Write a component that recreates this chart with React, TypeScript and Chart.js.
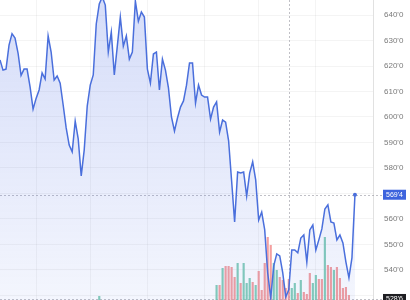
import React, { useEffect, useRef } from "react";
import { Chart, registerables } from "chart.js";

Chart.register(...registerables);

// Close prices (cents/bu), one per session
const prices: number[] = [
  622.4, 618.4, 618.8, 628.2, 632.7, 631.0, 625.1, 616.3, 618.8, 618.8,
  611.8, 603.1, 607.3, 610.6, 617.3, 614.9, 631.8, 625.5, 614.5, 616.1,
  613.3, 604.7, 595.7, 589.0, 586.3, 598.4, 591.4, 576.9, 587.1, 604.3,
  612.5, 616.5, 636.5, 644.3, 647.1, 643.9, 625.5, 633.3, 616.5, 627.8,
  639.2, 627.8, 631.8, 622.7, 625.5, 645.5, 637.6, 641.2, 639.2, 618.8,
  613.3, 624.7, 625.5, 610.6, 622.7, 618.4, 611.4, 600.0, 594.5, 599.6,
  603.9, 606.3, 612.5, 621.2, 621.2, 605.5, 612.5, 608.6, 607.8, 607.8,
  599.2, 603.9, 605.9, 594.1, 598.8, 598.0, 590.6, 574.9, 558.8, 578.4,
  578.0, 578.4, 569.0, 578.0, 582.4, 575.3, 559.6, 562.7, 555.7, 538.8,
  529.0, 541.6, 546.3, 545.5, 538.8, 529.4, 532.2, 547.8, 547.8, 546.7,
  552.5, 553.7, 543.1, 555.7, 557.6, 547.8, 551.8, 556.1, 563.9, 565.5,
  558.8, 558.4, 551.8, 553.7, 550.6, 543.1, 536.9, 544.7, 569.5,
];

// Volume bars: first session with a visible bar, and the later run
const earlyVolumeIndex = 33;
const earlyVolume = 4;
const earlyVolumeDir = "G";
const volumeStart = 72;
const volumeValues: number[] = [
  15, 15, 32, 34, 34, 33, 23, 37, 17, 37,
  17, 22, 18, 15, 29, 10, 37, 63, 55, 37,
  30, 23, 20, 12, 21, 12, 17, 7, 20, 8,
  6, 27, 17, 25, 21, 21, 63, 35, 33, 30,
  33, 22, 12, 13, 5,
];
const volumeDirs = "GRGRRRRGRGGGRGRRRRRGGRRRRGGRGRRRGGRRGRRGRRRRR";

const sessionCount = 125;
const yTickValues = [530, 540, 550, 560, 570, 580, 590, 600, 610, 620, 630, 640];
const hiddenTickValues = [530, 570];
const yMin = 528.2;
const yMax = 645.9;
const xGridSessions = [12, 30, 49, 68, 86, 105, 124];
const lastPriceLabel = "569'4";
const crossSession = 96;
const crossPrice = 528.6;
const crossLabel = "528'6";

const UP = "rgba(110,198,172,0.85)";
const DOWN = "rgba(242,142,142,0.85)";

function fmt(v: number) {
  return `${Math.round(v)}'0`;
}

export default function App() {
  const ref = useRef<HTMLCanvasElement | null>(null);

  useEffect(() => {
    document.body.style.margin = "0";
    const canvas = ref.current;
    if (!canvas) return;

    const labels = Array.from({ length: sessionCount }, (_, i) => `S${i + 1}`);
    const volumes: (number | null)[] = prices.map(() => null);
    const volColors: string[] = prices.map(() => UP);
    volumes[earlyVolumeIndex] = earlyVolume;
    volColors[earlyVolumeIndex] = earlyVolumeDir === "G" ? UP : DOWN;
    volumeValues.forEach((v, i) => {
      volumes[volumeStart + i] = v;
      volColors[volumeStart + i] = volumeDirs[i] === "G" ? UP : DOWN;
    });
    const lastIdx = prices.length - 1;
    const lastPrice = prices[lastIdx];

    const decor = {
      id: "decor",
      beforeDatasetsDraw(chart: any) {
        const { ctx, chartArea, scales } = chart;
        const y = scales.y;
        const x = scales.x;
        ctx.save();
        ctx.setLineDash([2, 2]);
        ctx.lineWidth = 1;
        ctx.strokeStyle = "rgba(150,150,160,0.6)";
        const yl = Math.round(y.getPixelForValue(lastPrice)) + 0.5;
        ctx.beginPath();
        ctx.moveTo(chartArea.left, yl);
        ctx.lineTo(chartArea.right + 10, yl);
        ctx.stroke();
        const xc = Math.round(x.getPixelForValue(crossSession)) + 0.5;
        ctx.beginPath();
        ctx.moveTo(xc, chartArea.top);
        ctx.lineTo(xc, chartArea.bottom);
        ctx.stroke();
        const yc = Math.round(y.getPixelForValue(crossPrice)) + 0.5;
        ctx.beginPath();
        ctx.moveTo(chartArea.left, yc);
        ctx.lineTo(chartArea.right + 10, yc);
        ctx.stroke();
        ctx.restore();
      },
      afterDraw(chart: any) {
        const { ctx, chartArea, scales } = chart;
        const y = scales.y;
        const box = (py: number, bg: string, text: string) => {
          const bx = chartArea.right + 10;
          const bw = 23;
          const bh = 10;
          ctx.fillStyle = bg;
          ctx.fillRect(bx, py - bh / 2, bw, bh);
          ctx.fillStyle = "#ffffff";
          ctx.font = "7px Arial";
          ctx.textAlign = "center";
          ctx.textBaseline = "middle";
          ctx.fillText(text, bx + bw / 2, py + 0.5);
        };
        ctx.save();
        box(y.getPixelForValue(lastPrice), "#3d63dd", lastPriceLabel);
        box(y.getPixelForValue(crossPrice), "#1e1e22", crossLabel);
        ctx.restore();
      },
    };

    const chart = new Chart(canvas, {
      type: "line",
      data: {
        labels,
        datasets: [
          {
            type: "line",
            label: "Price",
            data: prices,
            borderColor: "#4a6fdc",
            borderWidth: 1.5,
            tension: 0,
            fill: "start",
            backgroundColor: (c: any) => {
              const area = c.chart.chartArea;
              if (!area) return "rgba(90,120,230,0.15)";
              const g = c.chart.ctx.createLinearGradient(0, area.top, 0, area.bottom);
              g.addColorStop(0, "rgba(90,120,230,0.25)");
              g.addColorStop(1, "rgba(90,120,230,0.07)");
              return g;
            },
            pointRadius: (c: any) => (c.dataIndex === lastIdx ? 2 : 0),
            pointBackgroundColor: "#4a6fdc",
            pointBorderWidth: 0,
            order: 0,
            yAxisID: "y",
          },
          {
            type: "bar",
            label: "Volume",
            data: volumes,
            backgroundColor: volColors,
            borderWidth: 0,
            barPercentage: 0.8,
            categoryPercentage: 0.9,
            order: 1,
            yAxisID: "yv",
          } as any,
        ],
      },
      options: {
        animation: false,
        responsive: false,
        maintainAspectRatio: false,
        layout: { padding: 0, autoPadding: false },
        plugins: { legend: { display: false }, tooltip: { enabled: false } },
        scales: {
          x: {
            type: "category",
            offset: false,
            ticks: { display: false },
            grid: { color: "rgba(0,0,0,0.045)", drawTicks: false, offset: false },
            border: { display: false },
            afterBuildTicks: (s: any) => {
              s.ticks = xGridSessions.map((v) => ({ value: v }));
            },
            afterFit: (s: any) => {
              s.height = 0;
              s.paddingLeft = 0;
              s.paddingRight = 0;
            },
          },
          y: {
            position: "right",
            min: yMin,
            max: yMax,
            afterBuildTicks: (s: any) => {
              s.ticks = yTickValues.map((v) => ({ value: v }));
            },
            ticks: {
              padding: 11,
              color: "#7a7a7a",
              font: { family: "Arial", size: 8 },
              callback: (v: any) => (hiddenTickValues.includes(Number(v)) ? "" : fmt(Number(v))),
            },
            grid: { color: "rgba(0,0,0,0.045)", drawTicks: false },
            border: { display: true, color: "rgba(0,0,0,0.08)" },
            afterFit: (s: any) => {
              s.width = 37;
              s.paddingTop = 0;
              s.paddingBottom = 0;
            },
          },
          yv: {
            display: false,
            min: 0,
            max: 300,
          },
        },
      },
      plugins: [decor],
    });

    return () => chart.destroy();
  }, []);

  return (
    <div style={{ width: 410, height: 300 }}>
      <canvas ref={ref} width={410} height={300} />
    </div>
  );
}
